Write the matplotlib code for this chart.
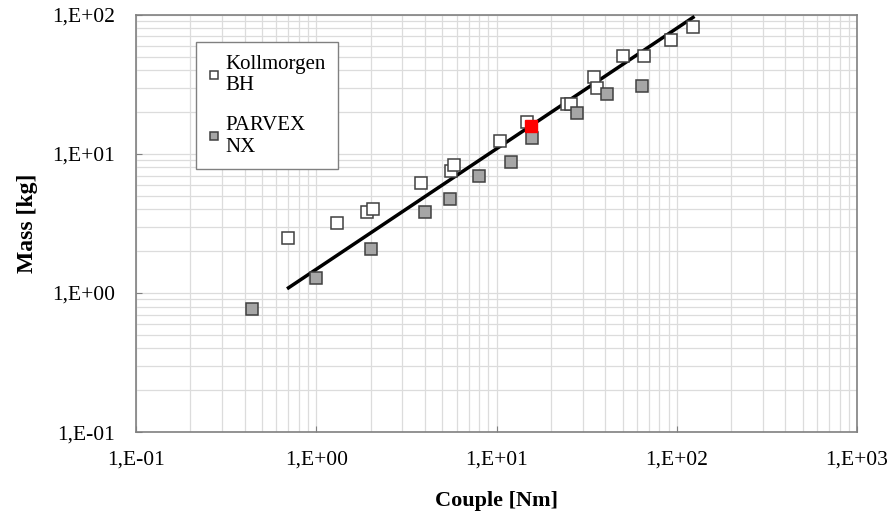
import numpy as np
import matplotlib
matplotlib.use('Agg')
import matplotlib.pyplot as plt
from matplotlib.ticker import LogLocator, FuncFormatter, NullFormatter

# Kollmorgen BH (torque Nm, mass kg)
bh_couple = [0.70, 1.3, 1.9, 2.07, 3.8, 5.55, 5.8, 10.4, 14.7, 24.5, 26.0, 34.6, 35.9, 50.1, 65.6, 92.6, 123]
bh_mass = [2.5, 3.2, 3.85, 4.0, 6.2, 7.55, 8.3, 12.4, 17.0, 23.0, 23.0, 35.8, 29.9, 50.7, 50.7, 66.0, 82.0]

# PARVEX NX
nx_couple = [0.44, 1.0, 2.0, 3.98, 5.48, 7.94, 12.0, 15.8, 27.8, 40.8, 63.9]
nx_mass = [0.77, 1.28, 2.07, 3.83, 4.74, 6.95, 8.75, 13.0, 19.7, 27.0, 30.8]

# highlighted point
red_couple = [15.5]
red_mass = [15.9]

# fitted trend line end points
fit_couple = [0.70, 123]
fit_mass = [1.09, 96]

plt.rcParams['font.family'] = ['Liberation Serif', 'DejaVu Serif']

fig = plt.figure(figsize=(8.9, 5.15), dpi=100)
ax = fig.add_axes([0.153, 0.161, 0.810, 0.810])

ax.set_xscale('log')
ax.set_yscale('log')
ax.set_xlim(0.1, 1000)
ax.set_ylim(0.1, 100)

ax.xaxis.set_major_locator(LogLocator(base=10, numticks=10))
ax.yaxis.set_major_locator(LogLocator(base=10, numticks=10))
ax.xaxis.set_minor_locator(LogLocator(base=10, subs=np.arange(2, 10), numticks=20))
ax.yaxis.set_minor_locator(LogLocator(base=10, subs=np.arange(2, 10), numticks=20))

def sci_comma(v, pos):
    e = int(round(np.log10(v)))
    return '1,E%s%02d' % ('+' if e >= 0 else '-', abs(e))

ax.xaxis.set_major_formatter(FuncFormatter(sci_comma))
ax.yaxis.set_major_formatter(FuncFormatter(sci_comma))
ax.xaxis.set_minor_formatter(NullFormatter())
ax.yaxis.set_minor_formatter(NullFormatter())

ax.grid(True, which='both', color='#dcdcdc', linewidth=0.9)
ax.set_axisbelow(True)
ax.tick_params(which='major', direction='in', length=4, color='#808080', labelsize=15.5)
ax.tick_params(axis='x', which='major', pad=13)
ax.tick_params(axis='y', which='major', pad=15)
ax.tick_params(which='minor', length=0)
for sp in ax.spines.values():
    sp.set_color('#808080')
    sp.set_linewidth(1.2)

ax.plot(fit_couple, fit_mass, color='black', linewidth=2.5, zorder=3)

ax.plot(bh_couple, bh_mass, linestyle='none', marker='s', markersize=8,
        markerfacecolor='white', markeredgecolor='#404040', markeredgewidth=1.1,
        label='Kollmorgen\nBH', zorder=4)
ax.plot(nx_couple, nx_mass, linestyle='none', marker='s', markersize=8,
        markerfacecolor='#a6a6a6', markeredgecolor='#404040', markeredgewidth=1.1,
        label='PARVEX\nNX', zorder=4)
ax.plot(red_couple, red_mass, linestyle='none', marker='s', markersize=8,
        markerfacecolor='red', markeredgecolor='red', zorder=5)

leg = ax.legend(loc='upper left', bbox_to_anchor=(0.083, 0.935), fontsize=15,
                markerscale=0.7, handlelength=0.5, handletextpad=0.3,
                labelspacing=1.0, borderpad=0.6, borderaxespad=0,
                fancybox=False, framealpha=1)
leg.get_frame().set_edgecolor('#808080')
leg.get_frame().set_linewidth(1.0)

ax.set_xlabel('Couple [Nm]', fontsize=16, fontweight='bold', labelpad=16)
ax.set_ylabel('Mass [kg]', fontsize=17, fontweight='bold', labelpad=10)

fig.savefig('out.png', dpi=100)
